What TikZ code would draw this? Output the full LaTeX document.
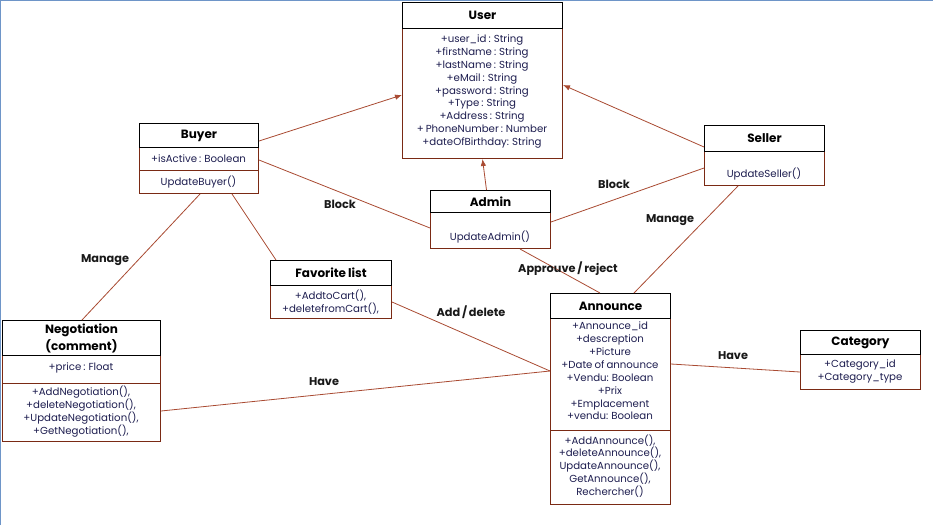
\documentclass[tikz,border=0pt]{standalone}
\usepackage{fontspec}
\setmainfont[WordSpace=0.75]{Poppins}
\usetikzlibrary{arrows.meta,calc}
\definecolor{brd}{HTML}{7A2A14}
\definecolor{conncol}{HTML}{A94A32}
\definecolor{mem}{HTML}{1E1E50}
\definecolor{frame}{HTML}{6E95C8}
\tikzset{
 cbody/.style={draw=brd, line width=1pt, fill=white, inner sep=0pt, anchor=north west},
 chead/.style={draw=black, line width=1pt, fill=white, inner sep=0pt, anchor=north west, font=\fontsize{12}{14}\selectfont\bfseries},
 members/.style={text=mem, align=center, inner sep=0pt, font=\fontsize{10.2}{12.9}\selectfont},
 sepline/.style={draw=brd, line width=1pt},
 assoc/.style={draw=conncol, line width=0.8pt},
 inh/.style={assoc, -{Latex[length=7pt,width=5.5pt]}},
 lbl/.style={font=\fontsize{11.3}{13}\selectfont\bfseries, text=black!90, inner sep=1pt},
}
\begin{document}
\begin{tikzpicture}[x=1pt,y=-1pt]
\useasboundingbox (0,0) rectangle (933,525);
\fill[white] (0,0) rectangle (933,525);
\draw[frame, line width=1.2pt] (0.6,525) -- (0.6,0.6) -- (933,0.6);

% User
\node[cbody, minimum width=160, minimum height=156] (user) at (402,2) {};
\node[chead, minimum width=160, minimum height=26] (userh) at (402,2) {User};
\node[members] (usera) at (482,91.5) {+user\_id : String\\+firstName : String\\+lastName : String\\+eMail : String\\+password : String\\+Type : String\\+Address : String\\+ PhoneNumber : Number\\+dateOfBirthday: String};

% Buyer
\node[cbody, minimum width=119, minimum height=70] (buyer) at (139,123) {};
\node[chead, minimum width=119, minimum height=24] (buyerh) at (139,123) {Buyer};
\draw[sepline] (139,170) -- (258,170);
\node[members] (buyera) at (198.5,159) {+isActive : Boolean};
\node[members] (buyerm) at (198.5,182) {UpdateBuyer()};

% Admin
\node[cbody, minimum width=120, minimum height=58] (admin) at (430,190) {};
\node[chead, minimum width=120, minimum height=22] (adminh) at (430,190) {Admin};
\node[members] (adminm) at (490,237) {UpdateAdmin()};

% Seller
\node[cbody, minimum width=120, minimum height=60] (seller) at (704,125) {};
\node[chead, minimum width=120, minimum height=26] (sellerh) at (704,125) {Seller};
\node[members] (sellerm) at (764,174) {UpdateSeller()};

% Favorite list
\node[cbody, minimum width=121, minimum height=58] (fav) at (270,260) {};
\node[chead, minimum width=121, minimum height=25] (favh) at (270,260) {Favorite list};
\node[members] (favm) at (330.5,302.5) {+AddtoCart(),\\+deletefromCart(),};

% Negotiation
\node[cbody, minimum width=158, minimum height=121] (nego) at (2,320) {};
\node[chead, minimum width=158, minimum height=35, align=center, font=\fontsize{12}{17}\selectfont\bfseries] (negoh) at (2,320) {Negotiation\\(comment)};
\draw[sepline] (2,383) -- (160,383);
\node[members] (negoa) at (81,368) {+price : Float};
\node[members] (negom) at (81,411.5) {+AddNegotiation(),\\+deleteNegotiation(),\\+UpdateNegotiation(),\\+GetNegotiation(),};

% Announce
\node[cbody, minimum width=120, minimum height=211] (ann) at (550,293) {};
\node[chead, minimum width=120, minimum height=25] (annh) at (550,293) {Announce};
\draw[sepline] (550,430) -- (670,430);
\node[members] (anna) at (610,371) {+Announce\_id\\+descreption\\+Picture\\+Date of announce\\+Vendu: Boolean\\+Prix\\+Emplacement\\+vendu: Boolean};
\node[members] (annm) at (610,466) {+AddAnnounce(),\\+deleteAnnounce(),\\UpdateAnnounce(),\\GetAnnounce(),\\Rechercher()};

% Category
\node[cbody, minimum width=120, minimum height=59] (cat) at (800,330) {};
\node[chead, minimum width=120, minimum height=24] (cath) at (800,330) {Category};
\node[members] (cata) at (860,371.5) {+Category\_id\\+Category\_type};

% Connectors
\draw[inh] ($(buyer.north east)+(0,18)$) -- ($(user.north west)+(0,93)$);
\draw[inh] ($(seller.north west)+(0,22)$) -- ($(user.north east)+(0,83)$);
\draw[inh] ($(admin.north)+(-4,0)$) -- (user.south);
\draw[assoc] ($(buyer.north east)+(0,37)$) -- ($(admin.north west)+(0,38)$);
\draw[assoc] ($(admin.north east)+(0,32)$) -- ($(seller.north west)+(0,43)$);
\draw[assoc] ($(seller.south west)+(34,0)$) -- ($(ann.north west)+(84,0)$);
\draw[assoc] ($(admin.south west)+(90,0)$) -- ($(ann.north west)+(50,0)$);
\draw[assoc] ($(buyer.south west)+(61,0)$) -- ($(nego.north west)+(80,0)$);
\draw[assoc] ($(buyer.south west)+(93,0)$) -- ($(fav.north west)+(6,0)$);
\draw[assoc] ($(fav.north east)+(0,42)$) -- ($(ann.north west)+(0,78)$);
\draw[assoc] ($(nego.north east)+(0,91)$) -- ($(ann.north west)+(0,78)$);
\draw[assoc] ($(ann.north east)+(0,71)$) -- ($(cat.north west)+(0,42)$);

% Labels
\node[lbl] (l1) at (340,204) {Block};
\node[lbl] (l2) at (614,184) {Block};
\node[lbl] (l3) at (670,220) {Manage};
\node[lbl] (l4) at (568,269) {Approuve / reject};
\node[lbl] (l5) at (105,260) {Manage};
\node[lbl] (l6) at (471,312) {Add / delete};
\node[lbl] (l7) at (324,382) {Have};
\node[lbl] (l8) at (733,356) {Have};
\end{tikzpicture}
\end{document}
